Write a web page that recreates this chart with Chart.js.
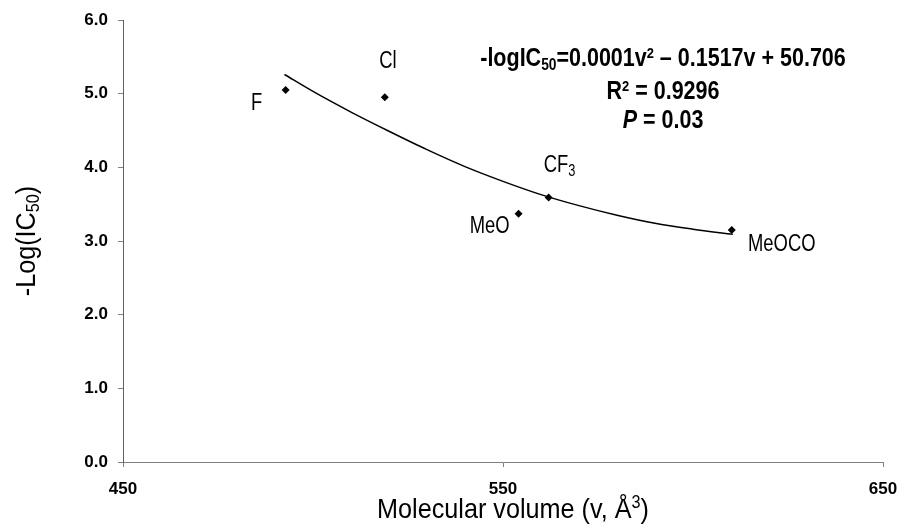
<!DOCTYPE html>
<html>
<head>
<meta charset="utf-8">
<script src="https://cdn.jsdelivr.net/npm/chart.js@4.4.1/dist/chart.umd.min.js"></script>
<style>
  body { margin: 0; background: #fff; }
  canvas { display: block; }
</style>
</head>
<body>
<canvas id="myChart" width="901" height="532"></canvas>
<script>
// data
var compounds = ['F', 'Cl', 'MeO', 'CF3', 'MeOCO'];
var volumes = [492.8, 518.9, 554.1, 562.0, 610.2];
var activity = [5.05, 4.95, 3.37, 3.59, 3.15];
// trend line as drawn in the figure
var fitVolumes = [492.5, 500, 510, 520, 530, 540, 550, 560, 570, 580, 590, 600, 610.5];
var fitActivity = [5.26, 5.03, 4.75, 4.49, 4.24, 4.01, 3.81, 3.63, 3.48, 3.35, 3.24, 3.16, 3.09];
var xTicks = [450, 550, 650];
var yTicks = [0, 1, 2, 3, 4, 5, 6];

// where each point label sits relative to its point (px)
var labelOffsets = [[-29, 12], [3, -37], [-29, 11], [11, -34], [50, 13]];

var FAM = "'Liberation Sans', Arial, sans-serif";
var axisGray = '#808080';

function fontOf(p) {
  return (p.style || '') + ' ' + (p.weight || 'normal') + ' ' + p.size + 'px ' + FAM;
}

// draws a run of text pieces (for sub/superscripts) starting at baseline y,
// squeezed horizontally by sx because the figure uses a condensed face
function drawParts(ctx, parts, x, y, align, sx) {
  sx = sx || 1;
  var w = 0;
  parts.forEach(function (p) {
    ctx.font = fontOf(p);
    p.w = ctx.measureText(p.t).width * sx;
    w += p.w;
  });
  var cx = align == 'center' ? x - w / 2 : x;
  ctx.textAlign = 'left';
  ctx.textBaseline = 'alphabetic';
  parts.forEach(function (p) {
    ctx.font = fontOf(p);
    ctx.save();
    ctx.translate(cx, y + (p.dy || 0));
    ctx.scale(sx, 1);
    ctx.fillText(p.t, 0, 0);
    ctx.restore();
    cx += p.w;
  });
}

function labelParts(name) {
  if (name == 'CF3') {
    return [{ t: 'CF', size: 23 }, { t: '3', size: 16, dy: 4 }];
  }
  return [{ t: name, size: 23 }];
}

var textPlugin = {
  id: 'textPlugin',
  afterDraw: function (chart) {
    var ctx = chart.ctx;
    ctx.save();
    ctx.fillStyle = '#000';

    // point labels
    var meta = chart.getDatasetMeta(0);
    meta.data.forEach(function (pt, i) {
      var off = labelOffsets[i];
      drawParts(ctx, labelParts(compounds[i]), pt.x + off[0], pt.y + off[1] + 8, 'center', 0.8);
    });

    // equation box
    var ex = 663;
    drawParts(ctx, [
      { t: '-logIC', size: 25, weight: 'bold' },
      { t: '50', size: 16, weight: 'bold', dy: 4 },
      { t: '=0.0001v', size: 25, weight: 'bold' },
      { t: '2', size: 15, weight: 'bold', dy: -8 },
      { t: ' \u2013 0.1517v + 50.706', size: 25, weight: 'bold' }
    ], ex, 66, 'center', 0.86);
    drawParts(ctx, [
      { t: 'R', size: 25, weight: 'bold' },
      { t: '2', size: 15, weight: 'bold', dy: -8 },
      { t: ' = 0.9296', size: 25, weight: 'bold' }
    ], ex, 99, 'center', 0.86);
    drawParts(ctx, [
      { t: 'P', size: 25, weight: 'bold', style: 'italic' },
      { t: ' = 0.03', size: 25, weight: 'bold' }
    ], ex, 128, 'center', 0.86);

    // x axis title
    drawParts(ctx, [
      { t: 'Molecular volume (v, \u00c5', size: 28 },
      { t: '3', size: 18, dy: -10 },
      { t: ')', size: 28 }
    ], 513, 518, 'center', 0.9);

    // y axis title, rotated
    ctx.translate(35, 241);
    ctx.rotate(-Math.PI / 2);
    drawParts(ctx, [
      { t: '-Log(IC', size: 28 },
      { t: '50', size: 18, dy: 4 },
      { t: ')', size: 28 }
    ], 0, 0, 'center', 0.9);
    ctx.restore();
  }
};

var ctx = document.getElementById('myChart').getContext('2d');
var myChart = new Chart(ctx, {
  type: 'scatter',
  data: {
    datasets: [{
      label: 'compounds',
      data: volumes.map(function (v, i) { return { x: v, y: activity[i] }; }),
      pointStyle: 'rectRot',
      pointRadius: 4,
      backgroundColor: '#000',
      borderColor: '#000',
      borderWidth: 0
    }, {
      label: 'fit',
      type: 'line',
      data: fitVolumes.map(function (v, i) { return { x: v, y: fitActivity[i] }; }),
      borderColor: '#000',
      borderWidth: 1.5,
      pointRadius: 0,
      fill: false,
      cubicInterpolationMode: 'monotone'
    }]
  },
  options: {
    responsive: false,
    devicePixelRatio: 1,
    animation: false,
    layout: { padding: { left: 0, right: 18, top: 20, bottom: 0 } },
    plugins: {
      legend: { display: false },
      tooltip: { enabled: false }
    },
    scales: {
      x: {
        type: 'linear',
        min: 450,
        max: 650,
        afterBuildTicks: function (scale) {
          scale.ticks = xTicks.map(function (v) { return { value: v }; });
        },
        afterFit: function (scale) {
          scale.height = 70;
          scale.paddingLeft = 0;
          scale.paddingRight = 0;
        },
        grid: { drawOnChartArea: false, drawTicks: true, tickLength: 5, color: axisGray },
        border: { display: true, color: axisGray, width: 1 },
        ticks: {
          color: '#000',
          padding: 12,
          maxRotation: 0,
          font: { family: FAM, size: 17, weight: 'bold' }
        }
      },
      y: {
        min: 0,
        max: 6,
        afterBuildTicks: function (scale) {
          scale.ticks = yTicks.map(function (v) { return { value: v }; });
        },
        afterFit: function (scale) {
          scale.width = 123;
          scale.paddingTop = 0;
          scale.paddingBottom = 0;
        },
        grid: { drawOnChartArea: false, drawTicks: true, tickLength: 5, color: axisGray },
        border: { display: true, color: '#606060', width: 1 },
        ticks: {
          color: '#000',
          padding: 10,
          callback: function (value) { return value.toFixed(1); },
          font: { family: FAM, size: 17, weight: 'bold' }
        }
      }
    }
  },
  plugins: [textPlugin]
});
</script>
</body>
</html>
